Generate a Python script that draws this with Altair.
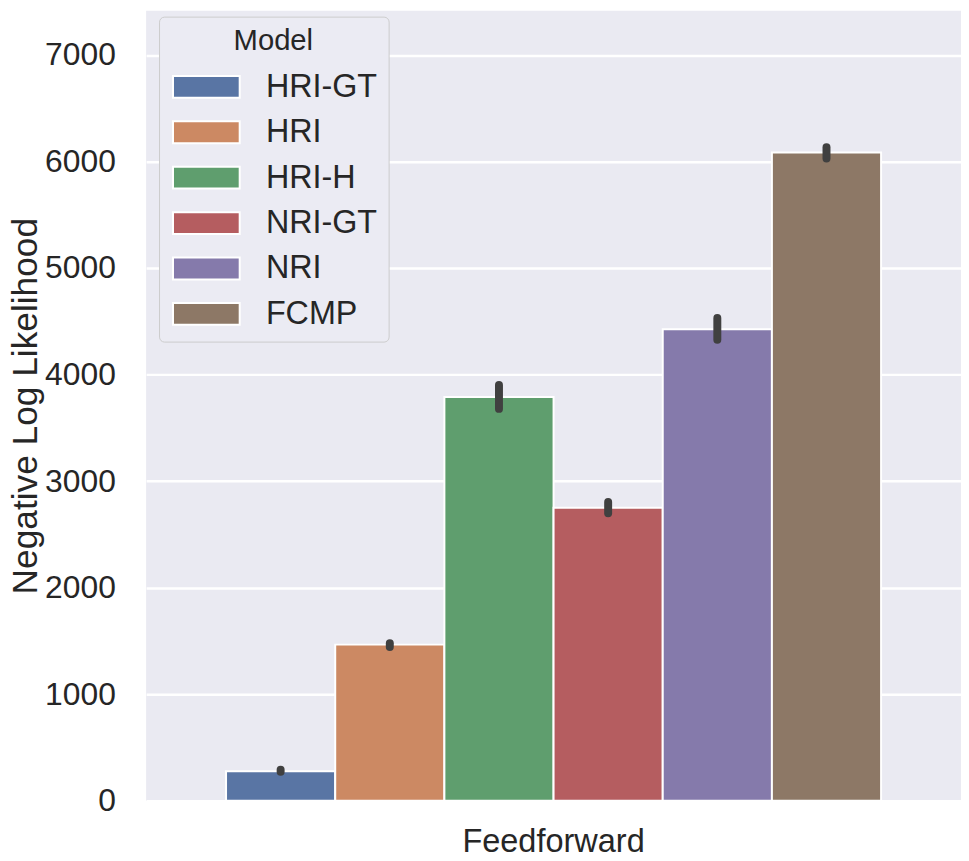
import altair as alt
import pandas as pd

models = ["HRI-GT", "HRI", "HRI-H", "NRI-GT", "NRI", "FCMP"]
means = [276, 1465, 3790, 2749, 4425, 6085]
ci_low = [272, 1443, 3678, 2699, 4326, 6029]
ci_high = [290, 1477, 3902, 2805, 4531, 6135]
arch = ["Feedforward"] * 6
colors = ["#5975A4", "#CC8963", "#5F9E6E", "#B55D60", "#857AAB", "#8D7866"]
y_ticks = [0, 1000, 2000, 3000, 4000, 5000, 6000, 7000]

df = pd.DataFrame({"arch": arch, "Model": models, "nll": means,
                   "lo": ci_low, "hi": ci_high})

FONT = "Liberation Sans"
TXT = "#262626"

x_enc = alt.X("arch:N", title=None,
              scale=alt.Scale(paddingOuter=0.122, paddingInner=0),
              axis=alt.Axis(labelAngle=0, labelFontSize=32.7, labelPadding=25,
                            labelLimit=1000,
                            ticks=False, domain=False, labelColor=TXT,
                            labelFont=FONT, grid=False))
xoff = alt.XOffset("Model:N", sort=models, scale=alt.Scale(paddingInner=0, paddingOuter=0))

bars = alt.Chart(df).mark_bar(stroke="white", strokeWidth=2).encode(
    x=x_enc,
    xOffset=xoff,
    y=alt.Y("nll:Q", title="Negative Log Likelihood",
            scale=alt.Scale(domain=[0, 7416], nice=False, zero=True),
            axis=alt.Axis(values=y_ticks, format="d", labelFontSize=32,
                          labelPadding=31, ticks=False, tickSize=0, domain=False,
                          titleFontSize=35.5, titleFontWeight="normal",
                          titlePadding=1, labelColor=TXT, titleColor=TXT,
                          labelFont=FONT, titleFont=FONT,
                          gridColor="white", gridWidth=2.5)),
    color=alt.Color("Model:N", sort=models,
                    scale=alt.Scale(domain=models, range=colors),
                    legend=alt.Legend(
                        title="Model", orient="none", legendX=13, legendY=6,
                        titleFontSize=29.4, titleFontWeight="normal",
                        titleColor=TXT, titleFont=FONT,
                        titleAnchor="middle", titleAlign="center",
                        titlePadding=14,
                        labelFontSize=32.5, labelColor=TXT, labelFont=FONT,
                        labelOffset=64, rowPadding=12.7,
                        symbolType="M-1.2,-1H4.9V1H-1.2Z", symbolSize=484,
                        symbolStrokeColor="white", symbolStrokeWidth=2,
                        symbolOpacity=1,
                        padding=11, fillColor="#EBEBF3",
                        strokeColor="#CCCCCC", cornerRadius=5)),
)

err = alt.Chart(df).mark_rule(strokeWidth=8, strokeCap="round", color="#404040").encode(
    x=alt.X("arch:N"),
    xOffset=xoff,
    y=alt.Y("lo:Q"),
    y2=alt.Y2("hi:Q"),
)

chart = alt.layer(bars, err).properties(
    width=820, height=795, padding=0
).configure_view(fill="#EAEAF2", stroke=None).configure_axis(
    gridColor="white", gridWidth=2.5
)

chart.save("out.html", embed_options={"renderer": "svg", "actions": False})
